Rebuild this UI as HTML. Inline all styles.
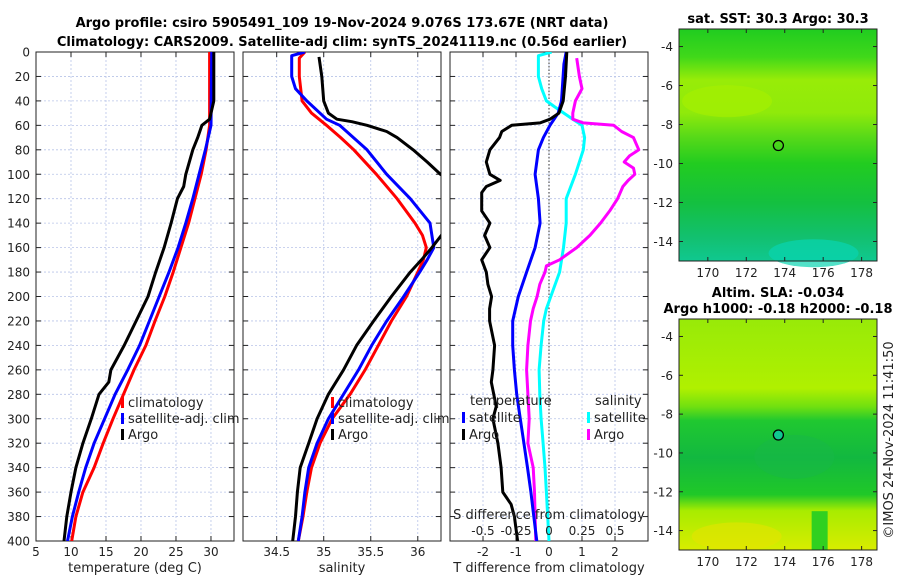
<!DOCTYPE html>
<html><head><meta charset="utf-8">
<style>
html,body{margin:0;padding:0;background:#fff;}
svg{display:block;font-family:"DejaVu Sans","Liberation Sans",sans-serif;}
</style></head>
<body>
<svg id="chart" width="900" height="580" viewBox="0 0 900 580" xmlns="http://www.w3.org/2000/svg">
<defs>
<clipPath id="c1"><rect x="36" y="52" width="198" height="489"/></clipPath>
<clipPath id="c2"><rect x="243" y="52" width="198" height="489"/></clipPath>
<clipPath id="c3"><rect x="450" y="52" width="198" height="489"/></clipPath>
<linearGradient id="sstg" x1="0" y1="0" x2="0" y2="1">
<stop offset="0" stop-color="#20cc20"/><stop offset="0.12" stop-color="#40d81a"/>
<stop offset="0.22" stop-color="#98ec08"/><stop offset="0.36" stop-color="#90ea0a"/>
<stop offset="0.46" stop-color="#5ada18"/><stop offset="0.58" stop-color="#22cc20"/>
<stop offset="0.75" stop-color="#14c040"/>
<stop offset="0.9" stop-color="#12c070"/><stop offset="1" stop-color="#10c890"/>
</linearGradient>
<linearGradient id="slag" x1="0" y1="0" x2="0" y2="1">
<stop offset="0" stop-color="#98ea08"/><stop offset="0.3" stop-color="#b0f000"/>
<stop offset="0.38" stop-color="#70e010"/><stop offset="0.44" stop-color="#20c830"/>
<stop offset="0.6" stop-color="#12b840"/><stop offset="0.76" stop-color="#20c828"/>
<stop offset="0.83" stop-color="#a8ec00"/>
<stop offset="1" stop-color="#d8ec00"/>
</linearGradient>
</defs>
<g id="titles" font-weight="bold" font-size="13" text-anchor="middle">
<text x="342" y="27">Argo profile: csiro 5905491_109 19-Nov-2024 9.076S 173.67E (NRT data)</text>
<text x="342" y="46">Climatology: CARS2009. Satellite-adj clim: synTS_20241119.nc (0.56d earlier)</text>
<text x="778" y="23">sat. SST: 30.3 Argo: 30.3</text>
<text x="778" y="297">Altim. SLA: -0.034</text>
<text x="778" y="313">Argo h1000: -0.18 h2000: -0.18</text>
</g>
<g id="panels"></g>
<g id="maps"></g>
<text transform="translate(893,440) rotate(-90)" text-anchor="middle" font-size="13" fill="#222">©IMOS 24-Nov-2024 11:41:50</text>
</svg>
<script>
// ---- data ----
const depthTicks = [0,20,40,60,80,100,120,140,160,180,200,220,240,260,280,300,320,340,360,380,400];
const tTicks = [5,10,15,20,25,30];
const sTicks = [34.5,35,35.5,36];
const dTTicks = [-2,-1,0,1,2];
const dSTicks = [-0.5,-0.25,0,0.25,0.5];
const dSTickLabels = ["-0.5","-0.25","0","0.25","0.5"];

const tempClimDepth = [0,60,80,100,120,140,160,180,200,220,240,260,280,300,320,340,360,380,400];
const tempClim = [29.8,29.8,29.3,28.6,27.7,26.8,25.7,24.6,23.4,22,20.7,19,17.5,16,14.6,13.3,11.7,10.7,10.1];
const tempSatDepth = [0,60,80,100,120,140,160,180,200,220,240,260,280,300,320,340,360,380,400];
const tempSat = [30.1,30,29.2,28.3,27.4,26.4,25.3,24,22.6,21.2,19.8,18.1,16.3,14.8,13.3,12.1,11.1,10.2,9.5];
const tempArgoDepth = [0,40,55,60,70,80,100,110,120,140,160,180,200,220,240,260,270,280,300,320,340,360,380,400];
const tempArgo = [30.4,30.4,29.8,28.7,28.1,27.4,26.4,26.1,25.2,24.3,23.3,22.1,21,19.3,17.6,15.7,15.4,14,12.9,11.7,10.7,10,9.4,9.0];

const salClimDepth = [0,5,20,40,50,60,70,80,100,120,140,150,160,170,180,200,220,240,260,280,300,320,340,360,380,400];
const salClim = [34.8,34.74,34.74,34.77,34.87,35.03,35.18,35.32,35.56,35.78,35.97,36.05,36.09,36.06,36.0,35.88,35.72,35.58,35.44,35.28,35.09,34.96,34.87,34.82,34.78,34.73];
const salSatDepth = [0,3,20,30,40,55,60,80,100,120,140,160,170,180,200,220,240,260,280,300,320,340,360,380,400];
const salSat = [34.8,34.66,34.66,34.7,34.82,35.03,35.17,35.46,35.67,35.92,36.13,36.17,36.1,36.02,35.85,35.67,35.51,35.37,35.21,35.05,34.93,34.84,34.8,34.77,34.73];
const salArgoDepth = [4,20,40,50,55,57,60,65,70,80,90,100,110,120,140,150,160,170,180,200,220,240,260,280,300,320,340,360,380,400];
const salArgo = [34.95,34.98,35.0,35.05,35.14,35.3,35.46,35.67,35.78,35.95,36.1,36.24,36.45,36.6,36.35,36.25,36.15,36.04,35.92,35.72,35.53,35.35,35.21,35.05,34.93,34.84,34.75,34.72,34.7,34.67];

const dTSatDepth = [0,10,40,50,60,70,80,100,120,140,160,180,200,220,240,260,280,300,320,340,360,380,400];
const dTSat = [0.52,0.45,0.38,0.28,0.03,-0.17,-0.32,-0.42,-0.32,-0.27,-0.42,-0.68,-0.93,-1.1,-1.1,-1.05,-0.98,-0.87,-0.76,-0.65,-0.55,-0.46,-0.37];
const dTArgoDepth = [0,20,40,50,55,58,60,65,70,80,90,100,105,110,115,130,140,150,160,170,180,190,200,210,220,240,260,270,290,300,320,340,360,370,380,400];
const dTArgo = [0.54,0.5,0.43,0.3,0.03,-0.27,-1.13,-1.43,-1.5,-1.79,-1.9,-1.79,-1.48,-1.9,-2.04,-2.04,-1.79,-1.95,-1.79,-2.04,-1.9,-1.85,-1.74,-1.8,-1.8,-1.65,-1.7,-1.75,-1.6,-1.7,-1.55,-1.45,-1.4,-1.15,-1.05,-0.95];
const dSSatDepth = [0,3,20,30,40,45,55,60,70,80,100,120,140,160,180,195,210,220,240,260,280,300,320,340,360,380,400];
const dSSat = [0.02,-0.08,-0.08,-0.055,-0.02,0.045,0.18,0.25,0.27,0.26,0.2,0.13,0.13,0.11,0.08,0.03,-0.02,-0.04,-0.06,-0.075,-0.07,-0.06,-0.045,-0.03,-0.02,-0.01,0];
const dSArgoDepth = [5,20,30,40,50,55,58,60,65,70,75,80,85,90,95,100,105,110,120,130,140,150,160,170,175,180,190,200,210,220,240,260,280,300,320,340,360,380,400];
const dSArgo = [0.21,0.23,0.25,0.2,0.18,0.18,0.26,0.49,0.55,0.64,0.66,0.68,0.61,0.57,0.64,0.65,0.6,0.56,0.52,0.46,0.39,0.31,0.21,0.08,-0.02,-0.03,-0.07,-0.09,-0.12,-0.14,-0.16,-0.17,-0.16,-0.15,-0.16,-0.12,-0.11,-0.105,-0.1];

// ---- layout ----
const NS = "http://www.w3.org/2000/svg";
const PT = 52, PB = 541;
function mk(tag, attrs, parent){ const e=document.createElementNS(NS,tag); for(const k in attrs) e.setAttribute(k,attrs[k]); parent.appendChild(e); return e; }
const yScale = d => PT + d/400*(PB-PT);
const panels = document.getElementById('panels');

function linear(d0,d1,r0,r1){ return v => r0 + (v-d0)/(d1-d0)*(r1-r0); }
const P = [
 {x0:36, x1:234, sc: linear(5,33.29,36,234), ticks:tTicks, labels:tTicks.map(String), title:"temperature (deg C)", name:"temperature-panel", clip:"c1"},
 {x0:243,x1:441, sc: linear(34.145,36.25,243.3,441.3), ticks:sTicks, labels:sTicks.map(String), title:"salinity", name:"salinity-panel", clip:"c2"},
 {x0:450,x1:648, sc: linear(-3,3,450,648), ticks:dTTicks, labels:dTTicks.map(String), title:"T difference from climatology", name:"difference-panel", clip:"c3"}
];
const dsScale = linear(-0.75,0.75,450,648);

P.forEach((p,i)=>{
 const g = mk('g',{},panels);
 
 
 depthTicks.forEach(d=>{ mk('line',{x1:p.x0,x2:p.x1,y1:yScale(d),y2:yScale(d),stroke:'#b8c4e8','stroke-width':0.8,'stroke-dasharray':'2,2'},g); });
 p.ticks.forEach(v=>{ const x=p.sc(v); mk('line',{x1:x,x2:x,y1:PT,y2:PB,stroke:'#b8c4e8','stroke-width':0.8,'stroke-dasharray':'2,2'},g); });
 const fr = mk('rect',{x:p.x0,y:PT,width:p.x1-p.x0,height:PB-PT,fill:'none',stroke:'#222','stroke-width':1},g);
 
 
 depthTicks.forEach(d=>{ const y=yScale(d);
   mk('line',{x1:p.x0,x2:p.x0+5,y1:y,y2:y,stroke:'#222'},g);
   mk('line',{x1:p.x1-5,x2:p.x1,y1:y,y2:y,stroke:'#222'},g);
   if(i===0){ const t=mk('text',{x:30,y:y+4.5,'text-anchor':'end','font-size':12,fill:'#222'},g); t.textContent=d;
     
      }
 });
 p.ticks.forEach((v,k)=>{ const x=p.sc(v);
   mk('line',{x1:x,x2:x,y1:PB-5,y2:PB,stroke:'#222'},g);
   mk('line',{x1:x,x2:x,y1:PT,y2:PT+5,stroke:'#222'},g);
   const t=mk('text',{x:x,y:PB+15,'text-anchor':'middle','font-size':12,fill:'#222'},g); t.textContent=p.labels[k];
   
   
 });
 const at=mk('text',{x:(p.x0+p.x1)/2,y:572,'text-anchor':'middle','font-size':13,fill:'#222'},g); at.textContent=p.title;
 
 
});

function series(depths, vals, sc, color, clip, name){
 const pts = depths.map((d,k)=> sc(vals[k]).toFixed(1)+','+yScale(d).toFixed(1)).join(' ');
 const pl = mk('polyline',{points:pts,fill:'none',stroke:color,'stroke-width':3,'stroke-linejoin':'round','clip-path':'url(#'+clip+')'},panels);
 
 
}
const zl = mk('line',{x1:P[2].sc(0),x2:P[2].sc(0),y1:PT,y2:PB,stroke:'#333','stroke-width':1,'stroke-dasharray':'1.5,2'},panels);



series(tempClimDepth,tempClim,P[0].sc,'#ff0000','c1','temp-climatology-line');
series(tempSatDepth,tempSat,P[0].sc,'#0000ff','c1','temp-satellite-line');
series(tempArgoDepth,tempArgo,P[0].sc,'#000','c1','temp-argo-line');
series(salClimDepth,salClim,P[1].sc,'#ff0000','c2','sal-climatology-line');
series(salSatDepth,salSat,P[1].sc,'#0000ff','c2','sal-satellite-line');
series(salArgoDepth,salArgo,P[1].sc,'#000','c2','sal-argo-line');
series(dSSatDepth,dSSat,dsScale,'#00ffff','c3','sdiff-satellite-line');
series(dSArgoDepth,dSArgo,dsScale,'#ff00ff','c3','sdiff-argo-line');
series(dTSatDepth,dTSat,P[2].sc,'#0000ff','c3','tdiff-satellite-line');
series(dTArgoDepth,dTArgo,P[2].sc,'#000','c3','tdiff-argo-line');

const sl = mk('text',{x:549,y:519,'text-anchor':'middle','font-size':13,fill:'#222'},panels); sl.textContent='S difference from climatology';


dSTicks.forEach((v,k)=>{ const t=mk('text',{x:dsScale(v),y:535,'text-anchor':'middle','font-size':12,fill:'#222'},panels); t.textContent=dSTickLabels[k];
 
  });

function legend(x,y,color,label,name){
 const g=mk('g',{},panels);
 
 
 mk('rect',{x:x,y:y-10,width:3,height:11,fill:color},g);
 const t=mk('text',{x:x+7,y:y,'font-size':13,fill:'#222'},g); t.textContent=label;
}
legend(121,407,'#ff0000','climatology','legend-temp-climatology');
legend(121,423,'#0000ff','satellite-adj. clim','legend-temp-satellite');
legend(121,439,'#000','Argo','legend-temp-argo');
legend(331,407,'#ff0000','climatology','legend-sal-climatology');
legend(331,423,'#0000ff','satellite-adj. clim','legend-sal-satellite');
legend(331,439,'#000','Argo','legend-sal-argo');
const lt=mk('text',{x:470,y:405,'font-size':13,fill:'#222'},panels); lt.textContent='temperature';


const ls=mk('text',{x:595,y:405,'font-size':13,fill:'#222'},panels); ls.textContent='salinity';


legend(462,422,'#0000ff','satellite','legend-tdiff-satellite');
legend(462,439,'#000','Argo','legend-tdiff-argo');
legend(587,422,'#00ffff','satellite','legend-sdiff-satellite');
legend(587,439,'#ff00ff','Argo','legend-sdiff-argo');

// maps
const maps=document.getElementById('maps');
const latTicks=[-4,-6,-8,-10,-12,-14];
const lonTicks=[170,172,174,176,178];
const argoLon=173.67, argoLat=-9.076;
function drawMap(y0,y1,grad,name,filled){
 const g=mk('g',{},maps);
 
 
 const lx=linear(168.5,178.8,679,877), ly=linear(-3.1,-15,y0,y1);
 mk('rect',{x:679,y:y0,width:198,height:y1-y0,fill:'url(#'+grad+')'},g);
 if(grad==='sstg'){
  mk('ellipse',{cx:lx(175.5),cy:ly(-14.6),rx:45,ry:14,fill:'#08d4b0',opacity:0.7},g);
  mk('ellipse',{cx:lx(171),cy:ly(-6.8),rx:45,ry:16,fill:'#a8f000',opacity:0.6},g);
 } else {
  mk('ellipse',{cx:lx(171.5),cy:ly(-14.3),rx:45,ry:14,fill:'#e4e400',opacity:0.6},g);
  mk('rect',{x:lx(175.4),y:ly(-13),width:16,height:ly(-15)-ly(-13),fill:'#30d020'},g);
  mk('ellipse',{cx:lx(174.5),cy:ly(-10.2),rx:40,ry:22,fill:'#18b848',opacity:0.5},g);
 }
 mk('rect',{x:679,y:y0,width:198,height:y1-y0,fill:'none',stroke:'#222'},g);
 latTicks.forEach(v=>{ const y=ly(v);
  mk('line',{x1:679,x2:683,y1:y,y2:y,stroke:'#222'},g); mk('line',{x1:873,x2:877,y1:y,y2:y,stroke:'#222'},g);
  const t=mk('text',{x:673,y:y+4.5,'text-anchor':'end','font-size':12,fill:'#222'},g); t.textContent=v;
  
   });
 lonTicks.forEach(v=>{ const x=lx(v);
  mk('line',{x1:x,x2:x,y1:y1-4,y2:y1,stroke:'#222'},g); mk('line',{x1:x,x2:x,y1:y0,y2:y0+4,stroke:'#222'},g);
  const t=mk('text',{x:x,y:y1+16,'text-anchor':'middle','font-size':12,fill:'#222'},g); t.textContent=v;
  
   });
 const c=mk('circle',{cx:lx(argoLon),cy:ly(argoLat),r:5,fill:filled?'#10c890':'none',stroke:'#000','stroke-width':1.3},g);
 
 
}
drawMap(29,261,'sstg','sst-map',false);
drawMap(319,550,'slag','sla-map',true);
</script>
</body></html>
